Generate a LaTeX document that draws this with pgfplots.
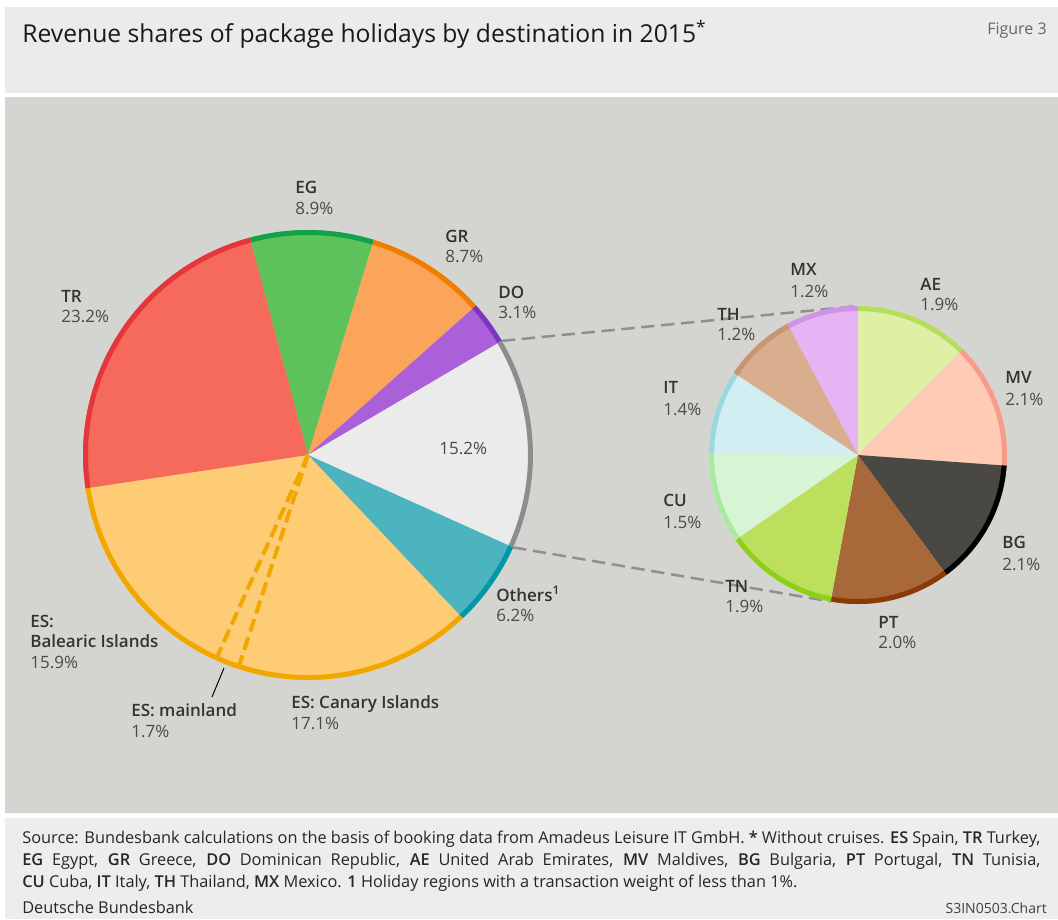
\documentclass[border=0pt]{standalone}
\usepackage{fontspec}
\setmainfont{Open Sans}
\IfFontExistsTF{Open Sans SemiBold}{\newfontfamily\sbfont{Open Sans SemiBold}}%
  {\IfFontExistsTF{Open Sans Semibold}{\newfontfamily\sbfont{Open Sans Semibold}}{\newcommand\sbfont{\bfseries}}}
\usepackage{pgfplots}
\pgfplotsset{compat=1.18}

% backgrounds
\definecolor{hdr}{HTML}{EBEBEB}
\definecolor{mainbg}{HTML}{D4D4D0}
\definecolor{ftr}{HTML}{EDEDED}
% big pie: fill / rim
\definecolor{trF}{HTML}{F56A5A}\definecolor{trR}{HTML}{E5363E}
\definecolor{egF}{HTML}{5DC259}\definecolor{egR}{HTML}{12A04A}
\definecolor{grF}{HTML}{FBA55A}\definecolor{grR}{HTML}{F07C00}
\definecolor{doF}{HTML}{AA60D8}\definecolor{doR}{HTML}{7B35C0}
\definecolor{otF}{HTML}{EBEBEB}\definecolor{otR}{HTML}{8D8D8D}
\definecolor{teF}{HTML}{4CB4BF}\definecolor{teR}{HTML}{0098A8}
\definecolor{esF}{HTML}{FDCC74}\definecolor{esR}{HTML}{F2A700}
% small pie
\definecolor{aeF}{HTML}{DFF0A6}\definecolor{aeR}{HTML}{B4DE5C}
\definecolor{mvF}{HTML}{FFCBB5}\definecolor{mvR}{HTML}{F79C88}
\definecolor{bgF}{HTML}{4A4843}\definecolor{bgR}{HTML}{000000}
\definecolor{ptF}{HTML}{A8683A}\definecolor{ptR}{HTML}{8B3A05}
\definecolor{tnF}{HTML}{BDDF5E}\definecolor{tnR}{HTML}{8FCF17}
\definecolor{cuF}{HTML}{D7F5D4}\definecolor{cuR}{HTML}{A9E9A0}
\definecolor{itF}{HTML}{D2EEF3}\definecolor{itR}{HTML}{99D8DF}
\definecolor{thF}{HTML}{D8AE8F}\definecolor{thR}{HTML}{C99474}
\definecolor{mxF}{HTML}{E6B4F5}\definecolor{mxR}{HTML}{CF93EA}
\definecolor{namec}{HTML}{333333}
\definecolor{valc}{HTML}{4A4A4A}
\definecolor{conn}{HTML}{8F8F8F}

\newcommand{\lfont}{\fontsize{10.2}{12}\selectfont}
\newcommand{\cd}[1]{{\sbfont #1}}
% x, baseline of name, baseline of value, name, value
\newcommand{\lab}[5]{%
  \node[anchor=base west, inner sep=0pt, font=\lfont\sbfont, text=namec] at (axis cs:#1,#2) {#4};
  \node[anchor=base west, inner sep=0pt, font=\lfont, text=valc] at (axis cs:#1,#3) {#5};}

\begin{document}
\begin{tikzpicture}
\begin{axis}[
  x=0.6pt, y=0.6pt,
  xmin=0, xmax=1058, ymin=0, ymax=919,
  y dir=reverse,
  hide axis, clip=false,
]
% panels
\fill[white]  (axis cs:0,0)    rectangle (axis cs:1058,919);
\fill[hdr]    (axis cs:5,7)    rectangle (axis cs:1058,93);
\fill[mainbg] (axis cs:5,97)   rectangle (axis cs:1058,813);
\fill[ftr]    (axis cs:5,818)  rectangle (axis cs:1058,919);

\node[anchor=base west, inner sep=0pt, font=\fontsize{14.8}{17}\selectfont, text=black!90]
  at (axis cs:22,42) {Revenue shares of package holidays by destination in 2015\textsuperscript{*}};
\node[anchor=base east, inner sep=0pt, font=\fontsize{9.6}{11}\selectfont, text=black!60]
  at (axis cs:1047,34) {Figure 3};

% connectors to the detail pie
\draw[conn, line width=1.5pt, dash pattern=on 8pt off 4pt]
  (axis cs:308,455) ++(30.48:135pt) -- (axis cs:858,306);
\draw[conn, line width=1.5pt, dash pattern=on 8pt off 4pt]
  (axis cs:308,455) ++(-24.24:135pt) -- ([shift={(-100.59:89.4pt)}]axis cs:858,455);

% left pie, shares in %, clockwise from 105 deg
\pgfplotsextra{%
  \gdef\ang{105}%
  \foreach \v/\fc/\rc in {8.9/egF/egR, 8.7/grF/grR, 3.1/doF/doR, 15.2/otF/otR,
      6.2/teF/teR, 17.1/esF/esR, 1.7/esF/esR, 15.9/esF/esR, 23.2/trF/trR}{%
    \pgfmathsetmacro\angb{\ang-3.6*\v}%
    \fill[\fc] (axis cs:308,455) -- ++(\ang:135pt) arc[start angle=\ang, end angle=\angb, radius=135pt] -- cycle;
    \draw[\rc, line width=3pt] (axis cs:308,455) ++(\ang:133.5pt) arc[start angle=\ang, end angle=\angb, radius=133.5pt];
    \xdef\ang{\angb}%
  }%
  \draw[esR, line width=2.4pt, dash pattern=on 8pt off 3.5pt] (axis cs:308,455) -- ++(-108.12:133pt);
  \draw[esR, line width=2.4pt, dash pattern=on 8pt off 3.5pt] (axis cs:308,455) -- ++(-114.24:133pt);
}

% right pie: breakdown of the 15.2% slice, clockwise from 90 deg
\pgfplotsextra{%
  \gdef\ang{90}%
  \foreach \v/\fc/\rc in {1.9/aeF/aeR, 2.1/mvF/mvR, 2.1/bgF/bgR, 2.0/ptF/ptR, 1.9/tnF/tnR,
      1.5/cuF/cuR, 1.4/itF/itR, 1.2/thF/thR, 1.2/mxF/mxR}{%
    \pgfmathsetmacro\angb{\ang-360*\v/15.3}%
    \fill[\fc] (axis cs:858,455) -- ++(\ang:89.4pt) arc[start angle=\ang, end angle=\angb, radius=89.4pt] -- cycle;
    \draw[\rc, line width=3pt] (axis cs:858,455) ++(\ang:87.9pt) arc[start angle=\ang, end angle=\angb, radius=87.9pt];
    \xdef\ang{\angb}%
  }%
}

\draw[black, line width=0.6pt] (axis cs:212,697) -- (axis cs:224,668);

% labels, left pie
\lab{295}{193}{214}{EG}{8.9\%}
\lab{445}{242}{262}{GR}{8.7\%}
\lab{498}{298}{318}{DO}{3.1\%}
\lab{61}{302}{322}{TR}{23.2\%}
\node[anchor=base west, inner sep=0pt, font=\lfont, text=valc] at (axis cs:439,454) {15.2\%};
\lab{496}{601}{621}{Others\textsuperscript{1}}{6.2\%}
\lab{131}{716}{737}{ES: mainland}{1.7\%}
\lab{291}{708}{729}{ES: Canary Islands}{17.1\%}
\node[anchor=base west, inner sep=0pt, font=\lfont\sbfont, text=namec] at (axis cs:30,627) {ES:};
\lab{30}{647}{668}{Balearic Islands}{15.9\%}

% labels, right pie
\lab{790}{275}{297}{MX}{1.2\%}
\lab{920}{290}{310}{AE}{1.9\%}
\lab{717}{320}{340}{TH}{1.2\%}
\lab{1005}{383}{405}{MV}{2.1\%}
\lab{663}{393}{415}{IT}{1.4\%}
\lab{663}{506}{528}{CU}{1.5\%}
\lab{1002}{548}{570}{BG}{2.1\%}
\lab{725}{592}{612}{TN}{1.9\%}
\lab{878}{628}{648}{PT}{2.0\%}

% footer
\node[anchor=base west, inner sep=0pt, font=\fontsize{9.8}{13.2}\selectfont, text=black!85] at (axis cs:22,843)
  {\parbox[t]{610.8pt}{Source: Bundesbank calculations on the basis of booking data from Amadeus Leisure IT GmbH. \cd{*} Without cruises. \cd{ES} Spain, \cd{TR} Turkey,\linebreak
  \cd{EG} Egypt, \cd{GR} Greece, \cd{DO} Dominican Republic, \cd{AE} United Arab Emirates, \cd{MV} Maldives, \cd{BG} Bulgaria, \cd{PT} Portugal, \cd{TN} Tunisia,\linebreak
  \cd{CU} Cuba, \cd{IT} Italy, \cd{TH} Thailand, \cd{MX} Mexico. \cd{1} Holiday regions with a transaction weight of less than 1\%.}};
\node[anchor=base west, inner sep=0pt, font=\fontsize{9.8}{11}\selectfont, text=black!85] at (axis cs:22,913) {Deutsche Bundesbank};
\node[anchor=base east, inner sep=0pt, font=\fontsize{8.4}{10}\selectfont, text=black!75] at (axis cs:1047,913) {S3IN0503.Chart};
\end{axis}
\end{tikzpicture}
\end{document}
